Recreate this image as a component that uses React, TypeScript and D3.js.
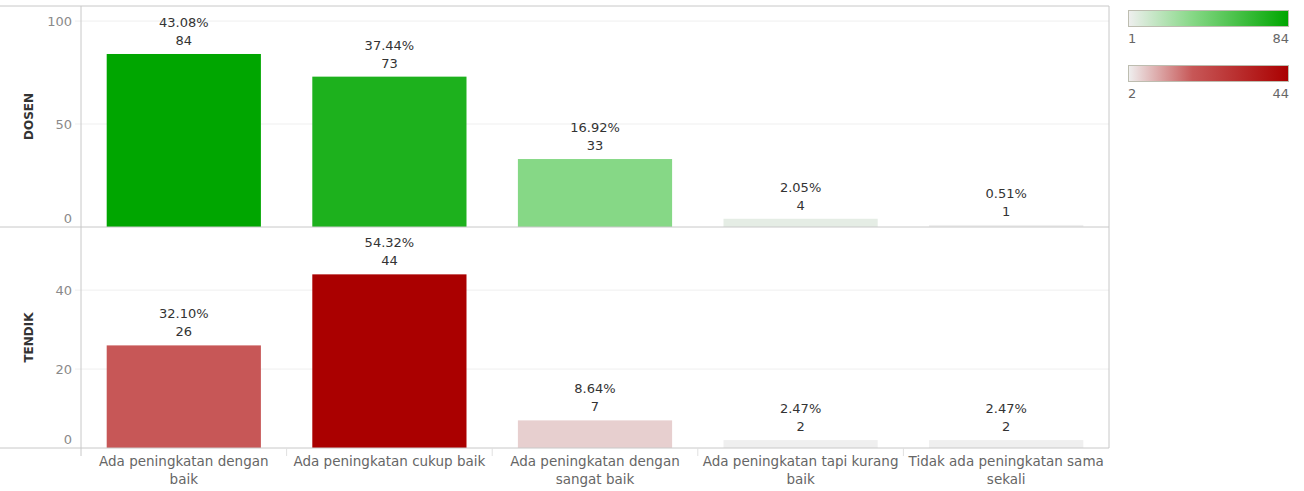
import { useEffect, useRef } from 'react'
import * as d3 from 'd3'

const categories = [
  'Ada peningkatan dengan baik',
  'Ada peningkatan cukup baik',
  'Ada peningkatan dengan sangat baik',
  'Ada peningkatan tapi kurang baik',
  'Tidak ada peningkatan sama sekali',
]
const categoryLines = [
  ['Ada peningkatan dengan', 'baik'],
  ['Ada peningkatan cukup baik'],
  ['Ada peningkatan dengan', 'sangat baik'],
  ['Ada peningkatan tapi kurang', 'baik'],
  ['Tidak ada peningkatan sama', 'sekali'],
]
const dosenValues = [84, 73, 33, 4, 1]
const tendikValues = [26, 44, 7, 2, 2]
const dosenTicks = [0, 50, 100]
const tendikTicks = [0, 20, 40]

const FONT = '"DejaVu Sans", sans-serif'

export default function App() {
  const ref = useRef<SVGSVGElement>(null)

  useEffect(() => {
    const svg = d3.select(ref.current)
    svg.selectAll('*').remove()

    const left = 81
    const right = 1109
    const top = 6
    const mid = 227
    const bottom = 448

    const x = d3.scaleBand<string>()
      .domain(categories)
      .range([left, right])
      .paddingInner(0.25)
      .paddingOuter(0.125)

    const greenRamp = ['#efefef', '#86d886', '#00a600']
    const redRamp = ['#efefef', '#c75757', '#aa0000']

    const rows = [
      {
        name: 'DOSEN', values: dosenValues, ticks: dosenTicks,
        y: d3.scaleLinear().domain([0, 107.3]).range([mid, top]),
        color: d3.scaleLinear<string>().domain([1, 33, 84]).range(greenRamp),
        y0: top, y1: mid,
      },
      {
        name: 'TENDIK', values: tendikValues, ticks: tendikTicks,
        y: d3.scaleLinear().domain([0, 56]).range([bottom, mid]),
        color: d3.scaleLinear<string>().domain([2, 26, 44]).range(redRamp),
        y0: mid, y1: bottom,
      },
    ]

    rows.forEach(row => {
      const g = svg.append('g')
      const total = d3.sum(row.values)

      // gridlines
      g.selectAll('line.grid')
        .data(row.ticks.filter(t => t > 0))
        .join('line')
        .attr('x1', left - 6).attr('x2', right)
        .attr('y1', d => row.y(d)).attr('y2', d => row.y(d))
        .attr('stroke', '#efefef')

      // tick labels
      g.selectAll('text.tick')
        .data(row.ticks)
        .join('text')
        .attr('x', left - 9)
        .attr('y', d => row.y(d) + (d === 0 ? -4 : 5))
        .attr('text-anchor', 'end')
        .attr('font-family', FONT)
        .attr('font-size', 13)
        .attr('fill', '#8a8a8a')
        .text(d => d)

      // row header
      g.append('text')
        .attr('transform', `translate(33,${(row.y0 + row.y1) / 2}) rotate(-90)`)
        .attr('text-anchor', 'middle')
        .attr('font-family', FONT)
        .attr('font-size', 12)
        .attr('font-weight', 'bold')
        .attr('fill', '#333')
        .text(row.name)

      // bars
      g.selectAll('rect')
        .data(row.values)
        .join('rect')
        .attr('x', (_, i) => x(categories[i])!)
        .attr('width', x.bandwidth())
        .attr('y', d => row.y(d))
        .attr('height', d => row.y(0) - row.y(d))
        .attr('fill', d => row.color(d))

      // labels
      const lab = g.selectAll('g.lab')
        .data(row.values)
        .join('g')
        .attr('transform', (d, i) => `translate(${x(categories[i])! + x.bandwidth() / 2},${row.y(d)})`)
        .attr('font-family', FONT)
        .attr('font-size', 13)
        .attr('fill', '#333')
        .attr('text-anchor', 'middle')
      lab.append('text').attr('y', -27).text(d => d3.format('.2f')(d / total * 100) + '%')
      lab.append('text').attr('y', -9).text(d => d)
    })

    // frame lines
    const lineColor = '#c8c8c8'
    ;[top, mid, bottom].forEach(yy => {
      svg.append('line')
        .attr('x1', 0).attr('x2', right)
        .attr('y1', yy).attr('y2', yy)
        .attr('stroke', lineColor)
    })
    svg.append('line')
      .attr('x1', left).attr('x2', left)
      .attr('y1', top).attr('y2', bottom + 8)
      .attr('stroke', lineColor)
    svg.append('line')
      .attr('x1', right).attr('x2', right)
      .attr('y1', top).attr('y2', bottom)
      .attr('stroke', lineColor)
    categories.slice(1).forEach((_, i) => {
      const xx = left + x.step() * (i + 1)
      svg.append('line')
        .attr('x1', xx).attr('x2', xx)
        .attr('y1', bottom).attr('y2', bottom + 8)
        .attr('stroke', '#e0e0e0')
    })

    // category labels
    categoryLines.forEach((lines, i) => {
      const cx = x(categories[i])! + x.bandwidth() / 2
      lines.forEach((ln, j) => {
        svg.append('text')
          .attr('x', cx)
          .attr('y', 466 + j * 18)
          .attr('text-anchor', 'middle')
          .attr('font-family', FONT)
          .attr('font-size', 13.5)
          .attr('fill', '#666')
          .text(ln)
      })
    })

    // legends
    const defs = svg.append('defs')
    const legends = [
      { id: 'gGreen', min: 1, max: 84, ramp: greenRamp, y: 10 },
      { id: 'gRed', min: 2, max: 44, ramp: redRamp, y: 65 },
    ]
    legends.forEach(l => {
      const grad = defs.append('linearGradient').attr('id', l.id)
      grad.append('stop').attr('offset', '0%').attr('stop-color', l.ramp[0])
      grad.append('stop').attr('offset', '40%').attr('stop-color', l.ramp[1])
      grad.append('stop').attr('offset', '100%').attr('stop-color', l.ramp[2])
      svg.append('rect')
        .attr('x', 1128.5).attr('y', l.y + 0.5)
        .attr('width', 160).attr('height', 16)
        .attr('fill', `url(#${l.id})`)
        .attr('stroke', '#bdbdb0')
      svg.append('text')
        .attr('x', 1128).attr('y', l.y + 33)
        .attr('font-family', FONT).attr('font-size', 13).attr('fill', '#666')
        .text(l.min)
      svg.append('text')
        .attr('x', 1289).attr('y', l.y + 33)
        .attr('text-anchor', 'end')
        .attr('font-family', FONT).attr('font-size', 13).attr('fill', '#666')
        .text(l.max)
    })
  }, [])

  return (
    <svg
      ref={ref}
      width={1304}
      height={491}
      style={{ position: 'absolute', left: 0, top: 0, background: '#fff' }}
    />
  )
}
